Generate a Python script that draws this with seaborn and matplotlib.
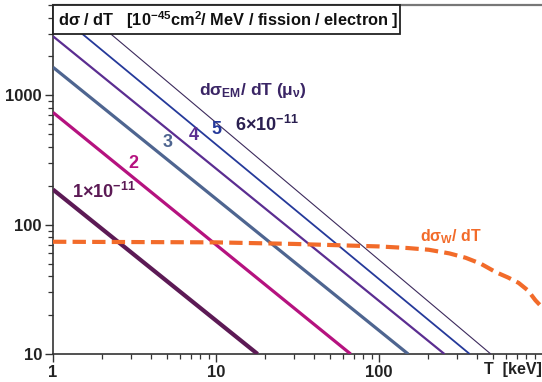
import matplotlib
matplotlib.use("Agg")
import numpy as np
import pandas as pd
import seaborn as sns
import matplotlib.pyplot as plt
from matplotlib.patches import Rectangle
from matplotlib.ticker import FixedLocator, FixedFormatter, LogLocator, NullFormatter

sns.set_theme(style="ticks")
plt.rcParams['font.family'] = ['Liberation Sans', 'DejaVu Sans']
plt.rcParams['font.weight'] = 'bold'
plt.rcParams['mathtext.fontset'] = 'custom'
plt.rcParams['mathtext.rm'] = 'Liberation Sans:bold'
plt.rcParams['mathtext.it'] = 'Liberation Sans:bold'
plt.rcParams['mathtext.bf'] = 'Liberation Sans:bold'
plt.rcParams['mathtext.sf'] = 'Liberation Sans:bold'

# ---- data ----
T_mu1 = [1.0, 18.0];  dsdT_mu1 = [187.0, 10.0]
T_mu2 = [1.0, 67.0];  dsdT_mu2 = [738.0, 10.0]
T_mu3 = [1.0, 151.0]; dsdT_mu3 = [1650.0, 10.0]
T_mu4 = [1.0, 252.0]; dsdT_mu4 = [2865.0, 10.0]
T_mu5 = [1.0, 360.0]; dsdT_mu5 = [4600.0, 10.0]
T_mu6 = [1.0, 485.0]; dsdT_mu6 = [7100.0, 10.0]

T_weak = [1, 10, 30, 100, 150, 202, 270, 340, 420, 520, 620, 718, 820, 912, 1000]
dsdT_weak = [73.8, 73.0, 71.0, 67.9, 66.0, 64.0, 60.0, 55.5, 50.0, 43.0, 39.0, 35.5, 31.0, 26.0, 23.0]

mu_labels = ["1×10$^{-11}$", "2", "3", "4", "5", "6×10$^{-11}$"]
x_tick_vals = [1, 10, 100]
x_tick_labels = ["1", "10", "100"]
y_tick_vals = [10, 100, 1000]
y_tick_labels = ["10", "100", "1000"]

em_series = [(T_mu1, dsdT_mu1), (T_mu2, dsdT_mu2), (T_mu3, dsdT_mu3),
             (T_mu4, dsdT_mu4), (T_mu5, dsdT_mu5), (T_mu6, dsdT_mu6)]
line_colors = ['#5c1a55', '#b5127f', '#4e6590', '#5b2d91', '#25399a', '#3c2a5c']
line_widths = [3.0, 2.3, 2.3, 1.6, 1.3, 0.8]
label_colors = ['#5c1a55', '#b5127f', '#4e6590', '#5b2d91', '#25399a', '#2a1f50']
label_pos = [(0.104, 0.464), (0.164, 0.547), (0.235, 0.605), (0.288, 0.625),
             (0.335, 0.642), (0.438, 0.656)]

fig = plt.figure(figsize=(5.42, 3.82), dpi=100)
ax = fig.add_axes([53/542, 28/382, 489/542, 349/382])
ax.set_xscale('log')
ax.set_yscale('log')

for (T, s), c, lw in zip(em_series, line_colors, line_widths):
    df = pd.DataFrame({"T": T, "s": s})
    sns.lineplot(data=df, x="T", y="s", ax=ax, color=c, lw=lw, sort=True,
                 estimator=None, solid_capstyle='butt', zorder=3)

dfw = pd.DataFrame({"T": T_weak, "s": dsdT_weak})
sns.lineplot(data=dfw, x="T", y="s", ax=ax, color='#f26b2a', lw=3.0,
             estimator=None, zorder=4, linestyle='--')
ax.lines[-1].set_dashes([3.2, 1.5])
ax.lines[-1].set_dash_capstyle('butt')

ax.set_xlim(1, 1000)
ax.set_ylim(10, 5000)
ax.set_xlabel("")
ax.set_ylabel("")

ax.xaxis.set_major_locator(FixedLocator(x_tick_vals))
ax.xaxis.set_major_formatter(FixedFormatter(x_tick_labels))
ax.yaxis.set_major_locator(FixedLocator(y_tick_vals))
ax.yaxis.set_major_formatter(FixedFormatter(y_tick_labels))
ax.xaxis.set_minor_locator(LogLocator(base=10, subs=np.arange(2, 10)))
ax.yaxis.set_minor_locator(LogLocator(base=10, subs=np.arange(2, 10)))
ax.xaxis.set_minor_formatter(NullFormatter())
ax.yaxis.set_minor_formatter(NullFormatter())

ax.tick_params(which='major', direction='out', length=6, width=1.0, color='#333333',
               labelsize=12, labelcolor='#222222', pad=2)
ax.tick_params(which='minor', direction='out', length=3.5, width=0.9, color='#333333')
for lab in ax.get_xticklabels() + ax.get_yticklabels():
    lab.set_fontweight('bold')

for sp in ['left', 'bottom']:
    ax.spines[sp].set_color('#333333')
    ax.spines[sp].set_linewidth(1.2)
ax.spines['top'].set_color('#777777')
ax.spines['top'].set_linewidth(1.6)
ax.spines['right'].set_visible(False)

# labels on lines
for txt, (fx, fy), c in zip(mu_labels, label_pos, label_colors):
    ax.text(fx, fy, txt, transform=ax.transAxes, ha='center', va='center',
            fontsize=13, color=c, fontweight='bold', zorder=6)

ax.text(0.409, 0.756, "dσ$_\\mathregular{EM}$/ dT (μ$_\\mathregular{ν}$)", transform=ax.transAxes,
        ha='center', va='center', fontsize=12.5, color='#3a2565', fontweight='bold', zorder=6)
ax.text(0.814, 0.335, "dσ$_\\mathregular{W}$/ dT", transform=ax.transAxes,
        ha='center', va='center', fontsize=11.5, color='#f26b2a', fontweight='bold', zorder=6)
ax.text(0.941, -0.043, "T  [keV]", transform=ax.transAxes, ha='center', va='center',
        fontsize=11.5, color='#222222', fontweight='bold', clip_on=False)

# title box
rect = Rectangle((0, 0.917), 0.71, 0.083, transform=ax.transAxes, facecolor='white',
                 edgecolor='#222222', lw=1.3, zorder=7, clip_on=False)
ax.add_patch(rect)
ax.text(0.0102, 0.958, "dσ / dT   [10$^{-45}$cm$^{2}$/ MeV / fission / electron ]",
        transform=ax.transAxes, ha='left', va='center', fontsize=11.8, color='#111111',
        fontweight='bold', zorder=8)

fig.savefig("out.png", dpi=100)
